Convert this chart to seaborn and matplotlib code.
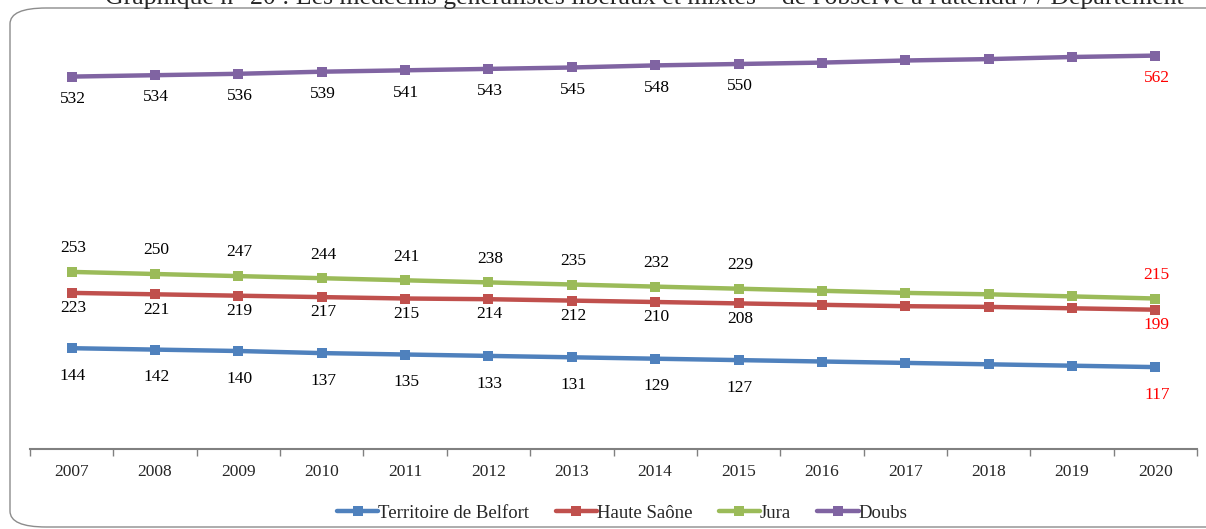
import matplotlib
matplotlib.use("Agg")
import matplotlib.pyplot as plt
from matplotlib.patches import FancyBboxPatch
import pandas as pd
import seaborn as sns

# data
years = [2007, 2008, 2009, 2010, 2011, 2012, 2013, 2014, 2015, 2016, 2017, 2018, 2019, 2020]
belfort = [144, 142, 140, 137, 135, 133, 131, 129, 127, 125, 123, 121, 119, 117]
haute_saone = [223, 221, 219, 217, 215, 214, 212, 210, 208, 206, 204, 203, 201, 199]
jura = [253, 250, 247, 244, 241, 238, 235, 232, 229, 226, 223, 221, 218, 215]
doubs = [532, 534, 536, 539, 541, 543, 545, 548, 550, 552, 555, 557, 560, 562]

series_names = ["Territoire de Belfort", "Haute Saône", "Jura", "Doubs"]
series_values = [belfort, haute_saone, jura, doubs]
colors = ["#4F81BD", "#C0504D", "#9BBB59", "#8064A2"]
# label offset direction (points): negative = below, positive = above
label_offsets = [-20, -11, 17, -16]
labelled_years = 9  # 2007-2015 in black, last one in red

rows = []
for name, vals in zip(series_names, series_values):
    for i, (yr, v) in enumerate(zip(years, vals)):
        rows.append({"pos": i, "year": yr, "value": v, "serie": name})
df = pd.DataFrame(rows)

sns.set_style("white")
plt.rcParams["font.family"] = ["Liberation Serif", "DejaVu Serif"]

fig = plt.figure(figsize=(12.06, 5.29), dpi=100)
ax = fig.add_axes([30 / 1206, 1 - 449 / 529, 1167 / 1206, (449 - 29) / 529])

sns.lineplot(data=df, x="pos", y="value", hue="serie", hue_order=series_names,
             palette=colors, style="serie", markers=["s"] * 4, dashes=False,
             linewidth=3.2, markersize=7.5, markeredgewidth=0, ax=ax, legend=True)

# value labels
for name, vals, off in zip(series_names, series_values, label_offsets):
    for i, v in enumerate(vals):
        if i < labelled_years:
            c = "black"
        elif i == len(vals) - 1:
            c = "red"
        else:
            continue
        ax.annotate(str(v), (i, v), xytext=(1, off), textcoords="offset points",
                    ha="center", va="center", fontsize=12.5, color=c)

ax.set_xlim(-0.5, len(years) - 0.5)
ax.set_ylim(0, 600)
ax.set_yticks([])
ax.set_xticks([i - 0.5 for i in range(len(years) + 1)])
ax.set_xticklabels([])
ax.set_xticks(range(len(years)), minor=True)
ax.set_xticklabels([str(y) for y in years], minor=True, fontsize=12.5)
ax.tick_params(axis="x", which="major", direction="out", length=5, width=1, color="#808080", bottom=True)
ax.tick_params(axis="x", which="minor", length=0, pad=11)
ax.set_xlabel("")
ax.set_ylabel("")
for s in ["top", "right", "left"]:
    ax.spines[s].set_visible(False)
ax.spines["bottom"].set_color("#808080")
ax.spines["bottom"].set_linewidth(1.5)

handles, labels = ax.get_legend_handles_labels()
ax.legend(handles, labels, loc="center", bbox_to_anchor=(0.516, 1 - 513 / 529), bbox_transform=fig.transFigure,
          ncol=4, frameon=False, fontsize=13.5, handlelength=2.2, handletextpad=0.0, columnspacing=1.4)

# rounded frame around the chart
frame = FancyBboxPatch((10 / 1206, 2 / 529), 1.1, 1 - 10 / 529,
                       boxstyle="round,pad=0,rounding_size=0.03", transform=fig.transFigure,
                       fill=False, edgecolor="#8c8c8c", linewidth=1.0, clip_on=False)
fig.patches.append(frame)

# clipped caption above the chart
fig.text(105 / 1206, 1.003, "Graphique n° 20 : Les médecins généralistes libéraux et mixtes – de l'observé à l'attendu / / Département",
         fontsize=18.5, va="center", ha="left")

fig.savefig("out.png", dpi=100)
